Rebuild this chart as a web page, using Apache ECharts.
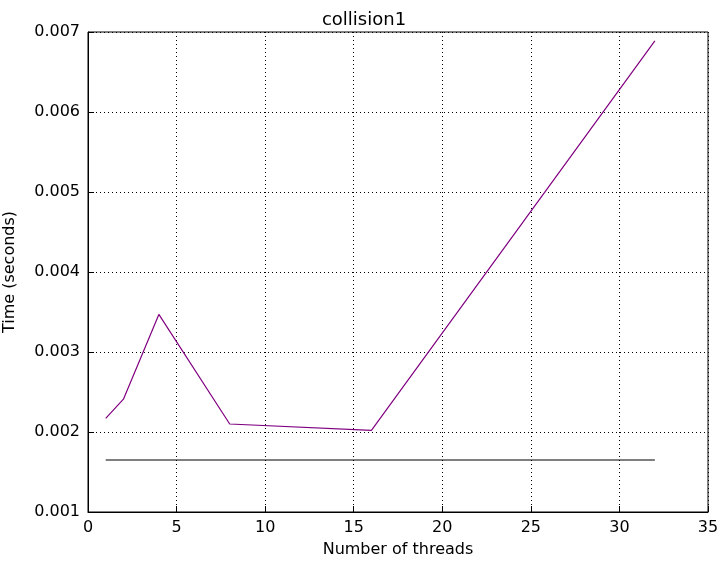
<!DOCTYPE html>
<html>
<head>
<meta charset="utf-8">
<script src="https://cdn.jsdelivr.net/npm/echarts@6/dist/echarts.min.js"></script>
<style>html,body{margin:0;padding:0;background:#fff}#chart{width:728px;height:570px}</style>
</head>
<body>
<div id="chart"></div>
<script>
var threads = [1, 2, 4, 8, 16, 32];
var times = [0.00217, 0.00241, 0.00347, 0.00210, 0.00202, 0.00689];
var baselineX = [1, 32];
var baselineY = [0.00165, 0.00165];

function pairs(xs, ys) {
    var out = [];
    for (var i = 0; i < xs.length; i++) {
        out.push([xs[i], ys[i]]);
    }
    return out;
}

var myChart = echarts.init(document.getElementById('chart'));
var axisFont = {color: '#000', fontSize: 16, fontFamily: 'DejaVu Sans'};
var option = {
    animation: false,
    color: ['#800080', '#000000'],
    title: {
        text: 'collision1',
        left: 'center',
        top: 6,
        textStyle: {color: '#000', fontSize: 18, fontWeight: 'normal', fontFamily: 'DejaVu Sans'}
    },
    grid: {left: 88, right: 20, top: 32, bottom: 58, containLabel: false, outerBoundsMode: 'none',
           show: true, borderColor: '#000', borderWidth: 1},
    xAxis: {
        type: 'value',
        min: 0, max: 35, interval: 5,
        name: 'Number of threads',
        nameLocation: 'middle',
        nameGap: 30,
        nameTextStyle: axisFont,
        axisLine: {lineStyle: {color: '#000'}},
        axisTick: {inside: true, length: 6, lineStyle: {color: '#000'}},
        axisLabel: axisFont,
        splitLine: {lineStyle: {color: '#000', type: [1, 3]}}
    },
    yAxis: {
        type: 'value',
        min: 0.001, max: 0.007, interval: 0.001,
        name: 'Time (seconds)',
        nameLocation: 'middle',
        nameGap: 70,
        nameTextStyle: axisFont,
        axisLine: {show: true, lineStyle: {color: '#000'}},
        axisTick: {show: true, inside: true, length: 6, lineStyle: {color: '#000'}},
        axisLabel: Object.assign({formatter: function (v) { return v.toFixed(3); }}, axisFont),
        splitLine: {lineStyle: {color: '#000', type: [1, 3]}}
    },
    series: [
        {
            type: 'line',
            data: pairs(threads, times),
            showSymbol: false,
            itemStyle: {color: '#800080'},
            lineStyle: {color: '#800080', width: 1.2}
        },
        {
            type: 'line',
            data: pairs(baselineX, baselineY),
            showSymbol: false,
            itemStyle: {color: '#000'},
            lineStyle: {color: '#000', width: 1.2, opacity: 1}
        }
    ]
};
myChart.setOption(option);
</script>
</body>
</html>
